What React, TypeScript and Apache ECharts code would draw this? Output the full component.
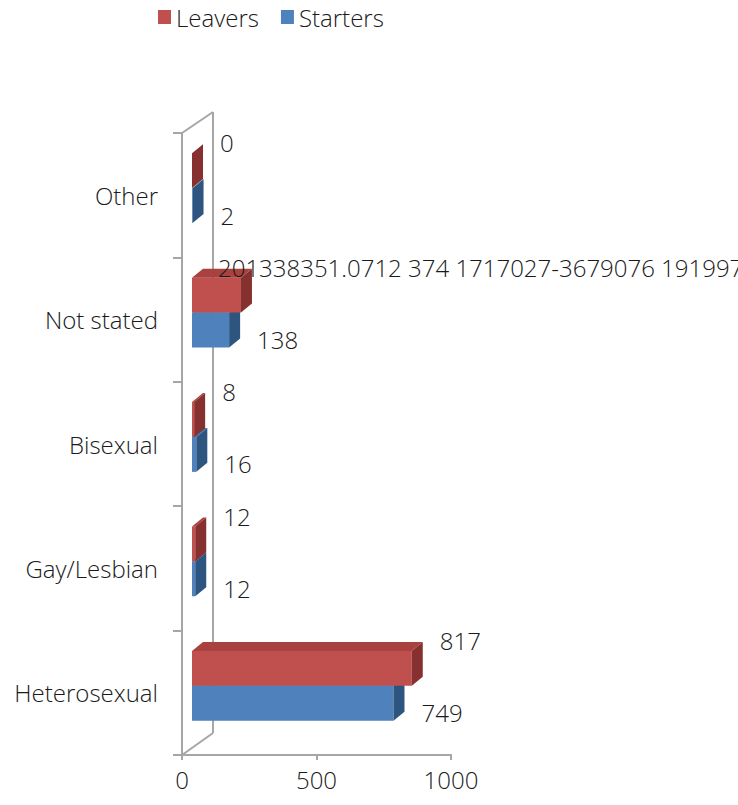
import React, { useEffect, useRef } from "react";
import * as echarts from "echarts";

const categories = ["Heterosexual", "Gay/Lesbian", "Bisexual", "Not stated", "Other"];
const leavers = [817, 12, 8, 182, 0];
const starters = [749, 12, 16, 138, 2];
const leaversLabelText = ["817", "12", "8", "201338351.0712 374 1717027-3679076 191997", "0"];
const startersLabelText = ["749", "12", "16", "138", "2"];
const xTicks = { min: 0, max: 1000, interval: 500 };

const FONT = "'Open Sans', 'Noto Sans', sans-serif";
const TEXT = "#1a1a1a";
const AXIS = "#A6A6A6";

const palette = {
  Leavers: { front: "#C0504D", top: "#A9413E", side: "#86312F" },
  Starters: { front: "#4F81BD", top: "#3F6DA3", side: "#2E5480" },
};

function makeRender(kind: "Leavers" | "Starters", labels: string[]) {
  const col = palette[kind];
  return (params: any, api: any) => {
    const v = api.value(0);
    const ci = api.value(1);
    const p0 = api.coord([0, ci]);
    const p1 = api.coord([v, ci]);
    const band = api.size([0, 1])[1];
    const h = band * 0.28;
    const top = kind === "Leavers" ? p0[1] - band * 0.337 : p0[1] - band * 0.056;
    const fx0 = p0[0] + 10;
    const fx1 = p1[0] + 10;
    const dx = 11;
    const dy = -9;
    const label = labels[params.dataIndex];
    const numeric = /^\d+$/.test(label);
    const lx = numeric ? fx1 + 28 : fx0 + 26;
    const ly = kind === "Leavers" ? p0[1] - band * 0.42 : p0[1] + band * 0.16;
    return {
      type: "group",
      children: [
        {
          type: "polygon",
          shape: { points: [[fx0, top], [fx1, top], [fx1, top + h], [fx0, top + h]] },
          style: { fill: col.front },
        },
        {
          type: "polygon",
          shape: { points: [[fx0, top], [fx1, top], [fx1 + dx, top + dy], [fx0 + dx, top + dy]] },
          style: { fill: col.top },
        },
        {
          type: "polygon",
          shape: { points: [[fx1, top], [fx1 + dx, top + dy], [fx1 + dx, top + h + dy], [fx1, top + h]] },
          style: { fill: col.side },
        },
        {
          type: "text",
          x: lx,
          y: ly,
          style: {
            text: label,
            fill: TEXT,
            fontSize: 24,
            fontFamily: FONT,
            fontWeight: 300,
            align: "left",
            verticalAlign: "middle",
          },
        },
      ],
    };
  };
}

export default function App() {
  const ref = useRef<HTMLDivElement>(null);
  useEffect(() => {
    if (!ref.current) return;
    const chart = echarts.init(ref.current, null, { renderer: "svg" });
    const wall = { stroke: AXIS, lineWidth: 2 };
    chart.setOption({
      animation: false,
      backgroundColor: "#ffffff",
      textStyle: { fontFamily: FONT },
      legend: {
        data: ["Leavers", "Starters"],
        left: 153,
        top: 0,
        icon: "rect",
        itemWidth: 13,
        itemHeight: 14,
        itemGap: 22,
        textStyle: { fontSize: 24, color: TEXT, fontFamily: FONT, fontWeight: 300 },
      },
      grid: { left: 182, top: 133, width: 269, height: 622 },
      xAxis: {
        type: "value",
        min: xTicks.min,
        max: xTicks.max,
        interval: xTicks.interval,
        axisLine: { show: true, lineStyle: { color: AXIS, width: 2 } },
        axisTick: { show: true, length: 5, lineStyle: { color: AXIS, width: 2 } },
        splitLine: { show: false },
        axisLabel: {
          fontSize: 24,
          color: TEXT,
          margin: 12,
          fontFamily: FONT,
          fontWeight: 300,
          formatter: (v: number) => String(v),
        },
      },
      yAxis: {
        type: "category",
        data: categories,
        axisLine: { show: true, lineStyle: { color: AXIS, width: 2 } },
        axisTick: { show: true, length: 9, lineStyle: { color: AXIS, width: 2 } },
        splitLine: { show: false },
        axisLabel: { fontSize: 24, color: TEXT, margin: 24, fontFamily: FONT, fontWeight: 300 },
      },
      graphic: [
        { type: "line", shape: { x1: 182, y1: 133, x2: 213, y2: 112 }, style: wall, silent: true },
        { type: "line", shape: { x1: 213, y1: 112, x2: 213, y2: 733 }, style: wall, silent: true },
        { type: "line", shape: { x1: 182, y1: 755, x2: 213, y2: 733 }, style: wall, silent: true },
      ],
      series: [
        {
          name: "Starters",
          type: "custom",
          itemStyle: { color: palette.Starters.front },
          encode: { x: 0, y: 1 },
          data: starters.map((v, i) => [v, i]),
          renderItem: makeRender("Starters", startersLabelText),
          clip: false,
          z: 3,
        },
        {
          name: "Leavers",
          type: "custom",
          itemStyle: { color: palette.Leavers.front },
          encode: { x: 0, y: 1 },
          data: leavers.map((v, i) => [v, i]),
          renderItem: makeRender("Leavers", leaversLabelText),
          clip: false,
          z: 4,
        },
      ],
    });
    return () => chart.dispose();
  }, []);
  return (
    <div
      ref={ref}
      style={{ position: "fixed", left: 0, top: 0, width: 738, height: 805, overflow: "hidden" }}
    />
  );
}
